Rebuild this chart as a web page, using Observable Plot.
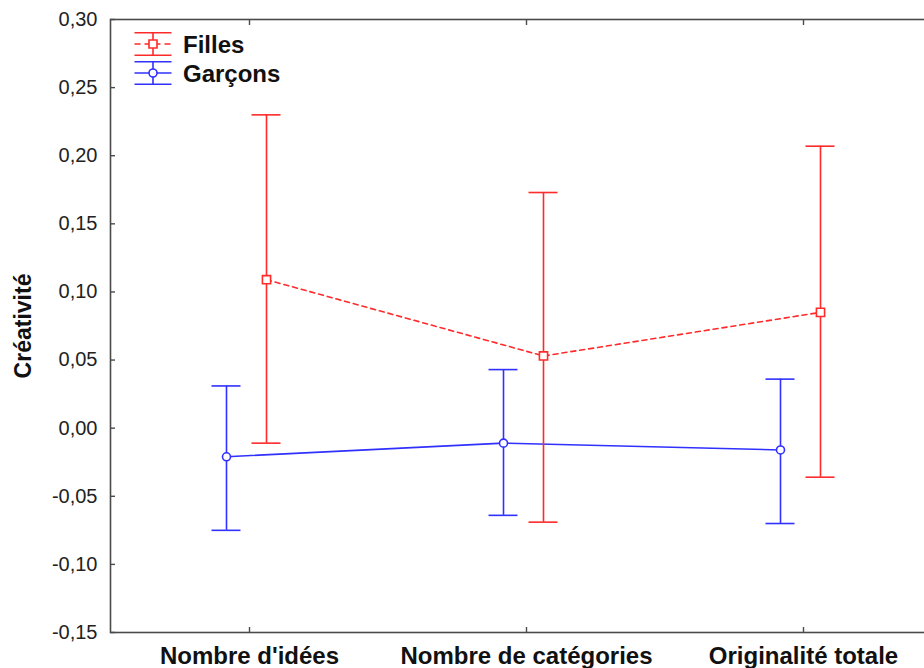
<!DOCTYPE html>
<html>
<head>
<meta charset="utf-8">
<script src="https://cdn.jsdelivr.net/npm/d3@7"></script>
<script src="https://cdn.jsdelivr.net/npm/@observablehq/plot@0.6"></script>
<style>
  html, body { margin: 0; padding: 0; background: white; }
  #chart { position: relative; width: 924px; height: 668px; overflow: hidden; }
  #chart svg { display: block; }
  #legend { position: absolute; left: 0; top: 0; pointer-events: none; }
</style>
</head>
<body>
<div id="chart"></div>
<script>
// Creativity scores (means with confidence intervals) by task and gender
const categories = ["Nombre d'idées", "Nombre de catégories", "Originalité totale"];
const seriesNames = ["Filles", "Garçons"];

const fillesMean = [0.109, 0.053, 0.085];
const fillesLow = [-0.011, -0.069, -0.036];
const fillesHigh = [0.230, 0.173, 0.207];

const garconsMean = [-0.021, -0.011, -0.016];
const garconsLow = [-0.075, -0.064, -0.070];
const garconsHigh = [0.031, 0.043, 0.036];

const yTicks = [-0.15, -0.10, -0.05, 0.00, 0.05, 0.10, 0.15, 0.20, 0.25, 0.30];
const yTitle = "Créativité";

const red = "#ff2a2a";
const blue = "#3030ff";
const axisGray = "#4a4a4a";
const font = "Liberation Sans, Arial, sans-serif";

const rows = (mean, low, high) =>
  categories.map((cat, i) => ({cat, mean: mean[i], low: low[i], high: high[i]}));
const filles = rows(fillesMean, fillesLow, fillesHigh);
const garcons = rows(garconsMean, garconsLow, garconsHigh);

const fmt = (d) => d.toFixed(2).replace(".", ",");

// Error bars, caps, connecting line and marker for one group
function series(data, color, dx, symbol, dash) {
  const cap = {x1: "cat", x2: "cat", dx, insetLeft: -14.5, insetRight: -14.5, stroke: color, strokeWidth: 1.6};
  return [
    Plot.ruleX(data, {x: "cat", y1: "low", y2: "high", dx, stroke: color, strokeWidth: 1.6}),
    Plot.ruleY(data, {...cap, y: "high"}),
    Plot.ruleY(data, {...cap, y: "low"}),
    Plot.line(data, {x: "cat", y: "mean", dx, stroke: color, strokeWidth: 1.6, strokeDasharray: dash}),
    Plot.dot(data, {x: "cat", y: "mean", dx, symbol, r: symbol === "square" ? 4.6 : 4, stroke: color, fill: "white", strokeWidth: 1.6})
  ];
}

const chart = Plot.plot({
  width: 924,
  height: 668,
  marginLeft: 110,
  marginRight: -22,
  marginTop: 19,
  marginBottom: 36,
  style: {fontFamily: font, background: "white", color: "#222"},
  x: {type: "point", domain: categories, range: [109, 942]},
  y: {domain: [-0.15, 0.30]},
  marks: [
    Plot.frame({stroke: axisGray, strokeWidth: 1.6}),
    Plot.axisY(yTicks, {tickSize: -5, tickPadding: 18, tickFormat: fmt, fontSize: 20, fill: "#222", stroke: axisGray, strokeWidth: 1.4, label: null}),
    Plot.axisX({anchor: "bottom", tickSize: -5, tickPadding: 19, fontSize: 24, fontWeight: "bold", fill: "#111", stroke: axisGray, strokeWidth: 1.4, label: null}),
    Plot.axisX({anchor: "top", tickSize: -5, fill: "none", stroke: axisGray, strokeWidth: 1.4, label: null}),
    Plot.text([yTitle], {frameAnchor: "left", textAnchor: "middle", lineAnchor: "middle", dx: -87, rotate: -90, fontSize: 23, fontWeight: "bold", fill: "#111"}),
    ...series(garcons, blue, -23, "circle", null),
    ...series(filles, red, 17, "square", "5,4")
  ]
});

const host = document.getElementById("chart");
host.appendChild(chart);

// Legend box in the upper-left corner of the plotting area
const legend = d3.select(host).append("svg")
  .attr("id", "legend")
  .attr("width", 924)
  .attr("height", 120);

const items = [
  {name: seriesNames[0], color: red, dash: "6,4", symbol: "square", y: 44},
  {name: seriesNames[1], color: blue, dash: null, symbol: "circle", y: 73}
];
const cx = 153, half = 18.5, arm = 11.3;

const g = legend.selectAll("g").data(items).join("g")
  .attr("transform", (d) => `translate(0,${d.y})`);
g.append("line").attr("x1", cx - half).attr("x2", cx + half).attr("y1", -arm).attr("y2", -arm)
  .attr("stroke", (d) => d.color).attr("stroke-width", 1.6);
g.append("line").attr("x1", cx - half).attr("x2", cx + half).attr("y1", arm).attr("y2", arm)
  .attr("stroke", (d) => d.color).attr("stroke-width", 1.6);
g.append("line").attr("x1", cx).attr("x2", cx).attr("y1", -arm).attr("y2", arm)
  .attr("stroke", (d) => d.color).attr("stroke-width", 1.6);
g.append("line").attr("x1", cx - half).attr("x2", cx + half).attr("y1", 0).attr("y2", 0)
  .attr("stroke", (d) => d.color).attr("stroke-width", 1.6)
  .attr("stroke-dasharray", (d) => d.dash);
g.append("path")
  .attr("transform", `translate(${cx},0)`)
  .attr("d", (d) => d.symbol === "square"
    ? d3.symbol(d3.symbolSquare, 64)()
    : d3.symbol(d3.symbolCircle, Math.PI * 16)())
  .attr("fill", "white").attr("stroke", (d) => d.color).attr("stroke-width", 1.6);
g.append("text")
  .attr("x", 183).attr("y", 8.5)
  .attr("font-family", font).attr("font-size", 24).attr("font-weight", "bold")
  .attr("fill", "#111")
  .text((d) => d.name);
</script>
</body>
</html>
